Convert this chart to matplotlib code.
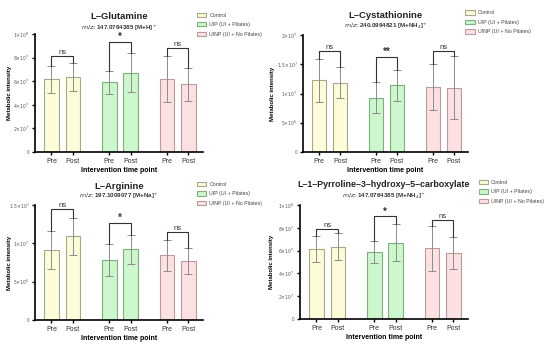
import matplotlib
matplotlib.use("Agg")
import matplotlib.pyplot as plt
from matplotlib.patches import Patch

plt.rcParams['font.family'] = ['Liberation Sans', 'DejaVu Sans']
plt.rcParams['mathtext.fontset'] = 'dejavusans'

groups = ["Control", "UIP (UI + Pilates)", "UINP (UI + No Pilates)"]
timepoints = ["Pre", "Post"]

titles = ["L\u2013Glutamine", "L\u2013Cystathionine", "L\u2013Arginine",
          "L\u20131\u2013Pyrroline\u20133\u2013hydroxy\u20135\u2013carboxylate"]
subtitles = [r"$\mathbf{\it{m/z}}$: 147.0764385 [M+H]$^{+}$",
             r"$\mathbf{\it{m/z}}$: 240.0994821 [M+NH$_{4}$]$^{+}$",
             r"$\mathbf{\it{m/z}}$: 197.1009077 [M+Na]$^{+}$",
             r"$\mathbf{\it{m/z}}$: 147.0764385 [M+NH$_{4}$]$^{+}$"]

# means (Control Pre, Control Post, UIP Pre, UIP Post, UINP Pre, UINP Post)
glutamine_mean = [6.15e7, 6.35e7, 5.9e7, 6.7e7, 6.2e7, 5.75e7]
glutamine_sd = [1.15e7, 1.2e7, 0.95e7, 1.65e7, 1.95e7, 1.4e7]
cysta_mean = [1.225e7, 1.185e7, 0.93e7, 1.14e7, 1.115e7, 1.10e7]
cysta_sd = [0.37e7, 0.27e7, 0.27e7, 0.26e7, 0.39e7, 0.54e7]
arginine_mean = [9.1e6, 10.9e6, 7.8e6, 9.25e6, 8.45e6, 7.75e6]
arginine_sd = [2.45e6, 2.4e6, 2.05e6, 1.9e6, 2.0e6, 1.7e6]
pyrroline_mean = [6.15e7, 6.35e7, 5.9e7, 6.7e7, 6.2e7, 5.75e7]
pyrroline_sd = [1.15e7, 1.2e7, 0.95e7, 1.65e7, 1.95e7, 1.4e7]

# significance labels and bracket heights per group
sig_labels = [["ns", "*", "ns"], ["ns", "**", "ns"], ["ns", "*", "ns"], ["ns", "*", "ns"]]
sig_heights = [[8.1e7, 9.3e7, 8.85e7], [1.72e7, 1.62e7, 1.72e7],
               [14.45e6, 12.7e6, 11.5e6], [7.9e7, 9.0e7, 8.65e7]]

yticks = [[0, 2e7, 4e7, 6e7, 8e7, 1e8], [0, 5e6, 1e7, 1.5e7, 2e7],
          [0, 5e6, 1e7, 1.5e7], [0, 2e7, 4e7, 6e7, 8e7, 1e8]]
yticklabels = [["0", r"$2{\times}10^{7}$", r"$4{\times}10^{7}$", r"$6{\times}10^{7}$", r"$8{\times}10^{7}$", r"$1{\times}10^{8}$"],
               ["0", r"$5{\times}10^{6}$", r"$1{\times}10^{7}$", r"$1.5{\times}10^{7}$", r"$2{\times}10^{7}$"],
               ["0", r"$5{\times}10^{6}$", r"$1{\times}10^{7}$", r"$1.5{\times}10^{7}$"],
               ["0", r"$2{\times}10^{7}$", r"$4{\times}10^{7}$", r"$6{\times}10^{7}$", r"$8{\times}10^{7}$", r"$1{\times}10^{8}$"]]

means = [glutamine_mean, cysta_mean, arginine_mean, pyrroline_mean]
sds = [glutamine_sd, cysta_sd, arginine_sd, pyrroline_sd]

fills = ["#fdfcd9", "#ccf6cc", "#fde0e2"]
edges = ["#a8a888", "#7fae7f", "#b89c9c"]

positions = [0, 1, 2.7, 3.7, 5.4, 6.4]

fig = plt.figure(figsize=(5.5, 3.46), dpi=100)
rects = [(35/550, 1-152/346, 168/550, 118/346),
         (303/550, 1-152/346, 165/550, 117/346),
         (35/550, 1-320/346, 168/550, 115/346),
         (300/550, 1-319/346, 168/550, 114/346)]
title_fs = [6.8, 6.8, 6.8, 6.4]
title_y = [1.15, 1.17, 1.165, 1.18]
sub_y = [1.05, 1.077, 1.078, 1.08]
ylab_x = [-0.137, -0.17, -0.135, -0.155]
leg_anchor = [(0.95, 1.2), (0.97, 1.23), (0.95, 1.22), (1.05, 1.24)]

for i in range(4):
    ax = fig.add_axes(rects[i])
    m = means[i]; s = sds[i]
    for j in range(6):
        g = j // 2
        ax.bar(positions[j], m[j], width=0.68, color=fills[g], edgecolor=edges[g], linewidth=0.8, zorder=2)
        ax.errorbar(positions[j], m[j], yerr=s[j], fmt='none', ecolor='#8c8c8c', elinewidth=0.7,
                    capsize=3, capthick=0.7, zorder=3)
    for g in range(3):
        x1, x2 = positions[2*g], positions[2*g+1]
        h = sig_heights[i][g]
        t1 = m[2*g] + s[2*g]
        t2 = m[2*g+1] + s[2*g+1]
        ax.plot([x1, x1, x2, x2], [t1, h, h, t2], color='#333333', lw=0.8, zorder=4, clip_on=False)
        ax.text((x1+x2)/2, h, sig_labels[i][g], ha='center', va='bottom',
                fontsize=5.5 if sig_labels[i][g] == 'ns' else 7,
                fontweight='normal' if sig_labels[i][g] == 'ns' else 'bold', color='#333333')
    ax.set_xlim(-0.77, 7.08)
    ax.set_ylim(0, yticks[i][-1])
    ax.set_yticks(yticks[i])
    ax.set_yticklabels(yticklabels[i], fontsize=3.3, color='#555555')
    ax.set_xticks(positions)
    ax.set_xticklabels(timepoints * 3, fontsize=5, color='#333333')
    ax.spines['top'].set_visible(False)
    ax.spines['right'].set_visible(False)
    ax.spines['left'].set_linewidth(1.2)
    ax.spines['bottom'].set_linewidth(1.2)
    ax.tick_params(axis='both', length=2.5, width=1, pad=1.5)
    ax.set_ylabel("Metabolic intensity", fontsize=4.3, fontweight='bold')
    ax.yaxis.set_label_coords(ylab_x[i], 0.5)
    ax.set_xlabel("Intervention time point", fontsize=5, fontweight='bold', labelpad=2)
    ax.text(0.5, title_y[i], titles[i], transform=ax.transAxes, ha='center', va='center',
            fontsize=title_fs[i], fontweight='bold', color='#222222')
    ax.text(0.5, sub_y[i], subtitles[i], transform=ax.transAxes, ha='center', va='center',
            fontsize=4.5, fontweight='bold', color='#333333')
    handles = [Patch(facecolor=fills[k], edgecolor=edges[k], linewidth=0.8, label=groups[k]) for k in range(3)]
    leg = ax.legend(handles=handles, loc='upper left', bbox_to_anchor=leg_anchor[i], fontsize=3.8,
                    frameon=False, handlelength=1.8, handleheight=0.9, labelspacing=0.85,
                    borderaxespad=0, handletextpad=0.6)
    for t in leg.get_texts():
        t.set_color('#444444')

fig.savefig("out.png", dpi=100)
